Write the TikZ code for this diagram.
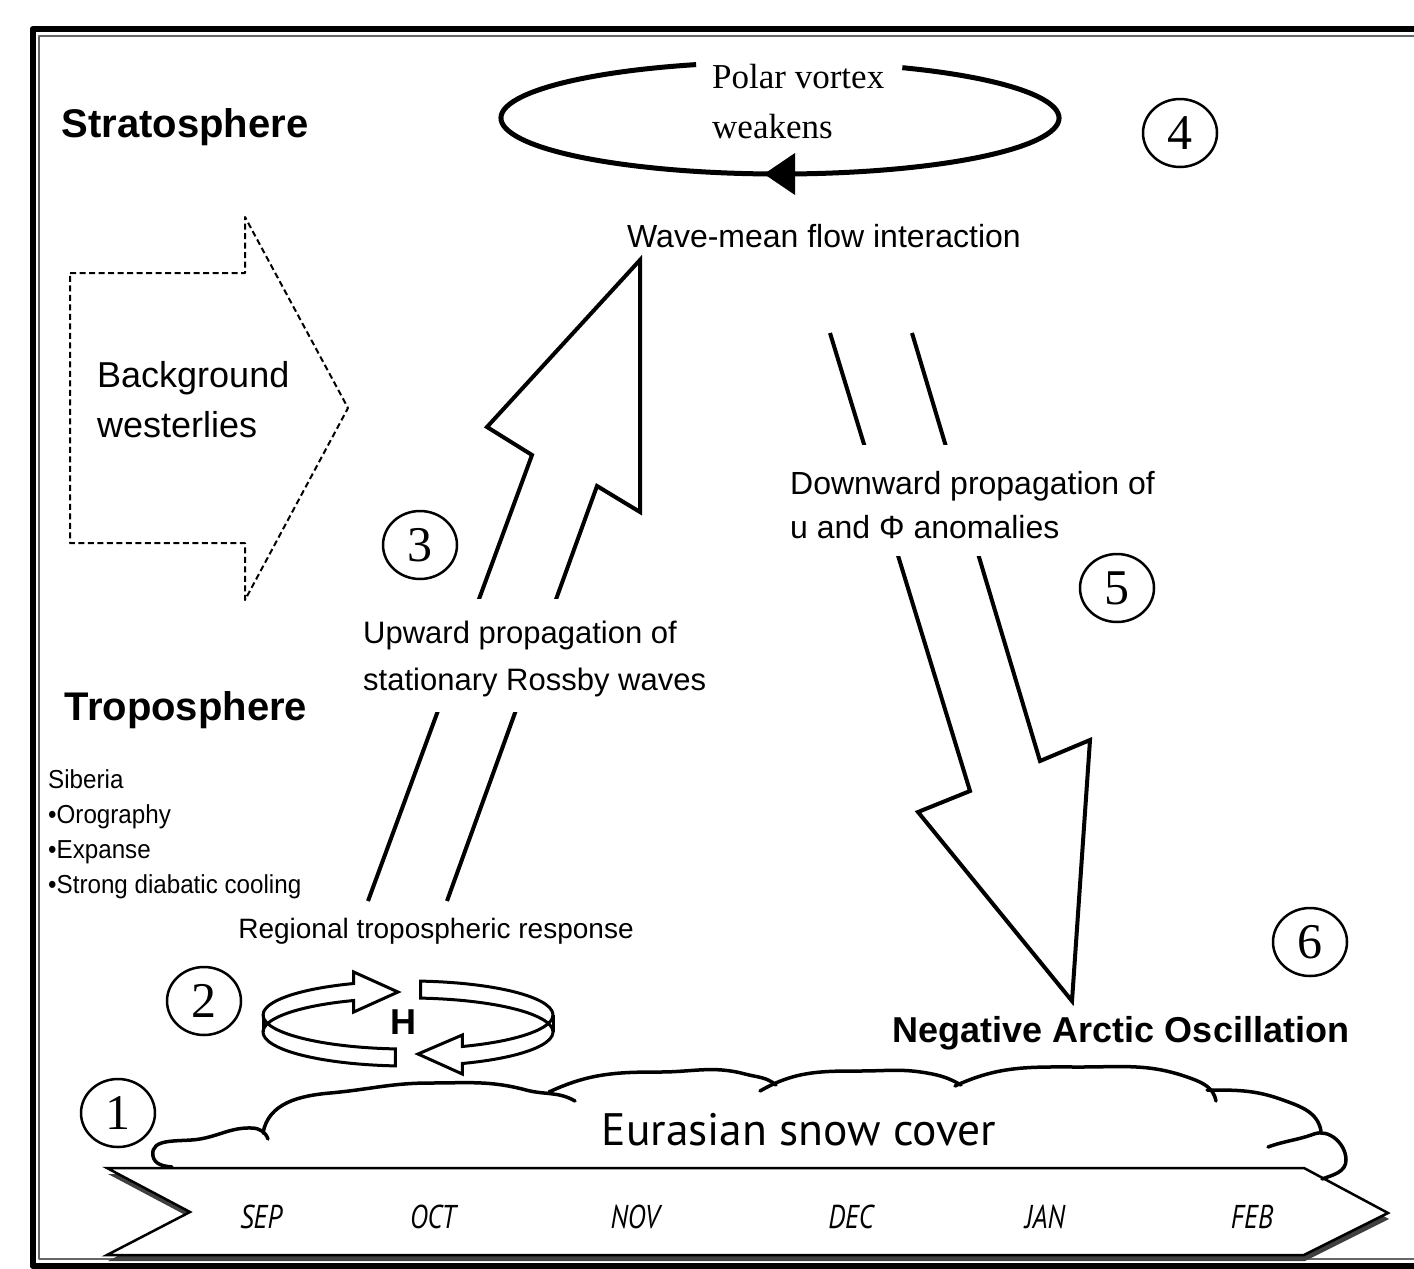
\documentclass[tikz,border=0pt]{standalone}
\usepackage{fontspec}
\setmainfont{Liberation Sans}
\newfontfamily\serifA{Liberation Serif}
\newfontfamily\humA{PT Sans}
\usepackage{graphicx}
\usetikzlibrary{shapes.geometric}
\tikzset{
  hdr/.style={font=\bfseries\fontsize{40}{46}\selectfont, inner sep=0pt},
  num/.style={draw, ellipse, line width=2.5pt, minimum width=74pt, minimum height=68pt, inner sep=0pt, font=\serifA\fontsize{50}{50}\selectfont},
  bigarrow/.style={line width=4pt, line join=miter, miter limit=10},
  dasharrow/.style={line width=2pt, dash pattern=on 6pt off 3.5pt},
  ring/.style={fill=white, line width=3pt, line join=miter},
  cloudline/.style={line width=3.5pt, line cap=round},
  month/.style={font=\humA\itshape\fontsize{33}{33}\selectfont, inner sep=0pt},
  gapbox/.style={fill=white, draw=none, inner sep=0pt, anchor=north west}
}
\begin{document}
\begin{tikzpicture}[x=1pt,y=1pt,line join=round]
\useasboundingbox (0,0) rectangle (1414,-1269);
\fill[white] (0,0) rectangle (1414,-1269);
% frame
\draw[line width=6pt] (32.5,-29) rectangle (1440,-1266);
\draw[line width=1.5pt, black!60] (39,-36) rectangle (1434,-1259);

% headers
\node[hdr] (strat) at (185,-127) {Stratosphere};
\node[hdr] (trop) at (186,-710) {Troposphere};

% background westerlies dashed arrow
\draw[dasharrow] (70,-273) -- (245,-273) -- (245,-217) -- (348,-408) -- (245,-600) -- (245,-543) -- (70,-543) -- cycle;
\node[anchor=west, align=left, inner sep=0pt, font=\fontsize{36}{50}\selectfont] (bw) at (97,-400) {Background\\westerlies};

% polar vortex
\coordinate (pv) at (780,-118);
\draw[line width=5pt] (pv) ++(64:279pt and 56pt) arc[start angle=64, end angle=-252.5, x radius=279pt, y radius=56pt];
\coordinate (pvtip) at (764,-174);
\coordinate (pvb1) at (795,-153);
\coordinate (pvb2) at (795,-195);
\fill (pvtip) -- (pvb1) -- (pvb2) -- cycle;
\node[anchor=west, align=left, inner sep=0pt, font=\serifA\fontsize{35}{50}\selectfont] (pvtxt) at (712,-102) {Polar vortex\\weakens};
\node[num] (n4) at (1180,-133) {4};

\node[inner sep=0pt, font=\fontsize{32}{40}\selectfont] (wm) at (824,-236) {Wave-mean flow interaction};

% upward arrow
\coordinate (ua1) at (368,-901);
\coordinate (ua2) at (532,-455);
\coordinate (ua3) at (487,-427);
\coordinate (uatip) at (640,-260);
\coordinate (ua5) at (640,-512);
\coordinate (ua6) at (597,-486);
\coordinate (ua7) at (447,-901);
\draw[bigarrow] (ua1) -- (ua2) -- (ua3) -- (uatip) -- (ua5) -- (ua6) -- (ua7);
\node[gapbox, minimum width=360pt, minimum height=113pt] (upgap) at (360,-599) {};
\node[anchor=west, align=left, inner sep=0pt, font=\fontsize{31}{47}\selectfont] (uptxt) at (363,-659) {Upward propagation of\\stationary Rossby waves};
\node[num] (n3) at (420,-545) {3};

% downward arrow
\coordinate (da1) at (830,-333);
\coordinate (da2) at (970,-791);
\coordinate (da3) at (918,-812);
\coordinate (datip) at (1072,-1001);
\coordinate (da5) at (1090,-740);
\coordinate (da6) at (1040,-761);
\coordinate (da7) at (912,-333);
\draw[bigarrow] (da1) -- (da2) -- (da3) -- (datip) -- (da5) -- (da6) -- (da7);
\node[gapbox, minimum width=375pt, minimum height=111pt] (dngap) at (785,-445) {};
\node[anchor=west, align=left, inner sep=0pt, font=\fontsize{32}{44}\selectfont] (dntxt) at (790,-505) {Downward propagation of\\u and Φ anomalies};
\node[num] (n5) at (1117,-588) {5};

% Siberia
\node[anchor=west, inner sep=0pt] (sib) at (48,-834) {\scalebox{0.93}[1]{\fontsize{26}{34.7}\selectfont\begin{tabular}{@{}l@{}}Siberia\\•Orography\\•Expanse\\•Strong diabatic cooling\end{tabular}}};

\node[inner sep=0pt, font=\fontsize{28}{34}\selectfont] (reg) at (436,-931) {Regional tropospheric response};

% H ring
\node[num] (n2) at (204,-1001) {2};
\filldraw[ring] (353.7,-972) -- (398,-992) -- (353.7,-1012) -- (353.7,-1000.5) arc[start angle=112, end angle=265, x radius=145pt, y radius=34pt] -- (395.4,-1048.9) arc[start angle=265, end angle=112, x radius=145pt, y radius=34pt] -- cycle;
\draw[line width=3pt] (263,-1015) -- (263,-1032);
\filldraw[ring] (420.6,-981.1) arc[start angle=85, end angle=-68, x radius=145pt, y radius=34pt] -- (462.3,-1035) -- (418,-1054) -- (462.3,-1074) -- (462.3,-1063.5) arc[start angle=-68, end angle=85, x radius=145pt, y radius=34pt] -- cycle;
\draw[line width=3pt] (553,-1015) -- (553,-1032);
\node[inner sep=0pt, font=\bfseries\fontsize{36}{36}\selectfont] (H) at (403,-1022) {H};

\node[num] (n6) at (1310,-942) {6};
\node[inner sep=0pt, font=\bfseries\fontsize{36}{40}\selectfont] (nao) at (1121,-1033) {Negative Arctic Oscillation};

% timeline
\fill[black!75, xshift=1pt, yshift=-6pt] (107,-1168) -- (1304,-1168) -- (1388,-1213) -- (1304,-1255) -- (107,-1255) -- (190,-1212) -- cycle;
\filldraw[fill=white, line width=2.5pt, line join=miter] (107,-1168) -- (1304,-1168) -- (1388,-1213) -- (1304,-1255) -- (107,-1255) -- (190,-1212) -- cycle;
\node[num] (n1) at (118,-1113) {1};

% cloud
\draw[cloudline] (172,-1167) to[out=175,in=-80] (153,-1156) to[out=100,in=190] (200,-1139) to[out=10,in=178] (252,-1128) to[out=-2,in=110] (268,-1139);
\draw[cloudline] (263,-1133) to[out=80,in=185] (330,-1093) to[out=5,in=180] (430,-1083) to[out=0,in=165] (526,-1090) to[out=-15,in=150] (575,-1101);
\draw[cloudline] (549,-1092) to[out=25,in=180] (660,-1072) to[out=0,in=165] (745,-1074) to[out=-15,in=140] (776,-1085);
\draw[cloudline] (760,-1091) to[out=30,in=180] (860,-1071) to[out=0,in=170] (927,-1073) to[out=-10,in=150] (961,-1085);
\draw[cloudline] (955,-1086) to[out=25,in=180] (1080,-1067) to[out=0,in=160] (1190,-1078) to[out=-20,in=100] (1216,-1101);
\draw[cloudline] (1207,-1090) to[out=0,in=160] (1283,-1100) to[out=-20,in=100] (1321,-1131);
\draw[cloudline] (1268,-1147) to[out=20,in=200] (1314,-1134);
\draw[cloudline] (1314,-1134) to[out=20,in=90] (1346,-1160) to[out=-90,in=20] (1322,-1179);
\node[inner sep=0pt, font=\humA\fontsize{45.5}{45.5}\selectfont] (snow) at (799,-1130) {Eurasian snow cover};

% months
\node[month] (sep) at (261,-1217) {\scalebox{0.82}[1]{SEP}};
\node[month] (oct) at (433,-1217) {\scalebox{0.82}[1]{OCT}};
\node[month] (nov) at (635,-1217) {\scalebox{0.82}[1]{NOV}};
\node[month] (dec) at (851,-1217) {\scalebox{0.82}[1]{DEC}};
\node[month] (jan) at (1045,-1217) {\scalebox{0.82}[1]{JAN}};
\node[month] (feb) at (1252,-1217) {\scalebox{0.82}[1]{FEB}};
\end{tikzpicture}
\end{document}
